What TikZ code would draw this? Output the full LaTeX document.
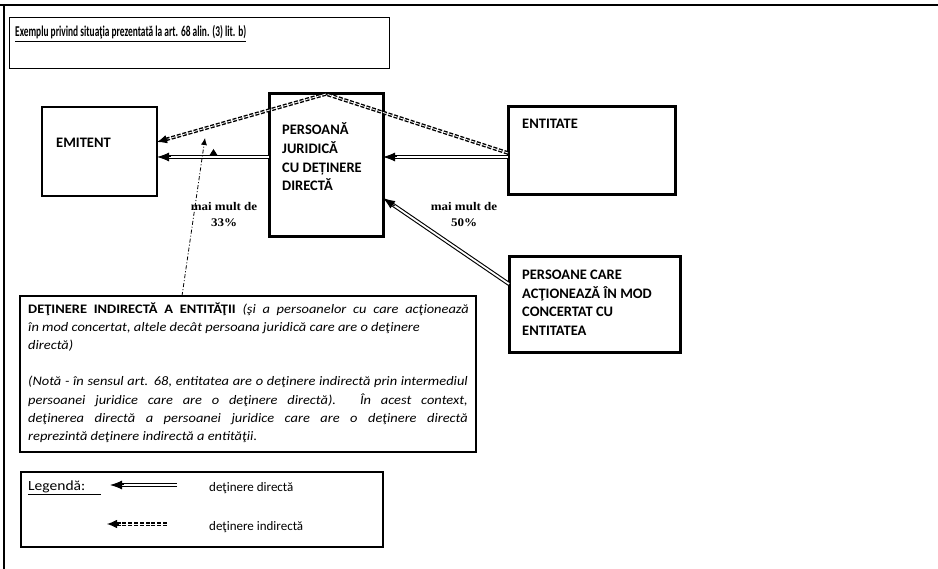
\documentclass[tikz,border=0pt]{standalone}
\usepackage{fontspec}
\setmainfont{Carlito}
\newfontfamily\serifb{Liberation Serif}
\usetikzlibrary{arrows.meta,calc}
\tikzset{
  box/.style={draw, line width=#1, inner sep=0pt, outer sep=0pt, anchor=north west},
  box/.default=1pt,
  lbl/.style={anchor=base west, inner sep=0pt, font=\fontsize{14.5}{17}\selectfont\bfseries},
  txt/.style={anchor=base west, inner sep=0pt, font=\fontsize{13}{15}\selectfont},
  pct/.style={anchor=base, inner sep=0pt, font=\serifb\fontsize{13}{14}\selectfont\bfseries},
  dline/.style={draw, double=white, double distance=1.8pt, line width=1.1pt, shorten >=8pt},
  dtip/.style={-{Latex[length=12pt,width=9pt]}, line width=1pt},
  iline/.style={draw, double=white, double distance=0.8pt, line width=1.4pt, dash pattern=on 4pt off 1.8pt, shorten >=7pt},
  itip/.style={-{Latex[length=10pt,width=8.5pt]}, line width=1pt},
  ddot/.style={line width=0.8pt, dash pattern=on 4pt off 2pt on 1pt off 2pt, -{Latex[length=7pt,width=6pt]}}
}
\newcommand\dirarr[2]{\draw[dline] #1 -- #2; \draw[dtip] ($#2!14pt!#1$) -- #2;}
\newcommand\wline[1]{\scalebox{1.11}[1]{#1}}
\begin{document}
\begin{tikzpicture}[x=1pt,y=-1pt]
\useasboundingbox (0,0) rectangle (938,569);
% outer frame
\coordinate (f0) at (0,5);
\coordinate (f1) at (938,5);
\coordinate (f2) at (4,569);
\draw[line width=1.3pt] (f0) -- (f1);
\draw[line width=1.3pt] (f2) |- (f0);

% boxes
\node[box=1pt, minimum width=380pt, minimum height=51pt] (title) at (9,18) {};
\node[box=2.6pt, minimum width=115pt, minimum height=89pt] (emit) at (42,107) {};
\node[box=3pt, minimum width=114pt, minimum height=143pt] (pj) at (269,94) {};
\node[box=3pt, minimum width=167pt, minimum height=88pt] (ent) at (508,107) {};
\node[box=3pt, minimum width=171pt, minimum height=96pt] (pers) at (509,257) {};
\node[box=1.4pt, minimum width=456pt, minimum height=156pt] (big) at (20,296) {};
\node[box=1.4pt, minimum width=362pt, minimum height=75pt] (leg) at (21,472) {};

% helper coordinates
\coordinate (y157) at (0,157);
\coordinate (y153) at (0,153);
\coordinate (y142) at (0,142);
\coordinate (y284) at (0,284);
\coordinate (y198) at (0,198);
\coordinate (x182) at (182,0);
\coordinate (ddend) at (205,138);

% direct holdings
\dirarr{(pj.west |- y157)}{(emit.east |- y157)}
\dirarr{(ent.west |- y157)}{(pj.east |- y157)}
\dirarr{(pers.west |- y284)}{(pj.east |- y198)}

% indirect holding
\draw[iline] (ent.west |- y153) -- (pj.north) -- (emit.east |- y142);
\draw[itip] ($(emit.east |- y142)!12pt!(pj.north)$) -- (emit.east |- y142);

% dash-dot pointer
\draw[ddot] (big.north -| x182) -- (ddend);
\fill (209,156) -- (213.5,149) -- (218,156) -- cycle;

% texts
\node[anchor=base west, inner sep=0pt, font=\fontsize{15}{17}\selectfont\bfseries] (ttl) at (15,37)
  {\resizebox{231pt}{\height}{\underline{Exemplu privind situaţia prezentată la art. 68 alin. (3) lit. b)}}};
\node[lbl] (temit) at (56,148) {EMITENT};
\node[lbl] (pj1) at (282,135) {PERSOANĂ};
\node[lbl] (pj2) at (282,154) {JURIDICĂ};
\node[lbl] (pj3) at (282,172.5) {CU DEȚINERE};
\node[lbl] (pj4) at (282,191) {DIRECTĂ};
\node[lbl] (tent) at (522,128.5) {ENTITATE};
\node[lbl] (ps1) at (522,279.5) {PERSOANE CARE};
\node[lbl] (ps2) at (522,298.3) {ACŢIONEAZĂ ÎN MOD};
\node[lbl] (ps3) at (522,317) {CONCERTAT CU};
\node[lbl] (ps4) at (522,335.7) {ENTITATEA};

\node[pct] (m1) at (224,211) {\scalebox{1}[0.9]{mai mult de}};
\node[pct] (m2) at (224,227) {\scalebox{1}[0.9]{33\%}};
\node[pct] (m3) at (464,211) {\scalebox{1}[0.9]{mai mult de}};
\node[pct] (m4) at (464,227) {\scalebox{1}[0.9]{50\%}};

\node[txt] (b1) at (28,314) {\wline{\makebox[397pt][s]{\textbf{DEŢINERE INDIRECTĂ A ENTITĂŢII} \textit{(şi a persoanelor cu care acţionează}}}};
\node[txt] (b2) at (28,332) {\wline{\textit{în mod concertat, altele decât persoana juridică care are o deţinere}}};
\node[txt] (b3) at (28,350) {\wline{\textit{directă)}}};
\node[txt] (b4) at (28,386) {\wline{\makebox[396pt][s]{\textit{(Notă - în sensul art. 68, entitatea are o deţinere indirectă prin intermediul}}}};
\node[txt] (b5) at (28,404.5) {\wline{\makebox[396pt][s]{\textit{persoanei juridice care are o deţinere directă). În acest context,}}}};
\node[txt] (b6) at (28,422.5) {\wline{\makebox[396pt][s]{\textit{deţinerea directă a persoanei juridice care are o deţinere directă}}}};
\node[txt] (b7) at (28,441) {\wline{\textit{reprezintă deţinere indirectă a entităţii.}}};

% legend
\node[txt, font=\fontsize{14}{16}\selectfont] (lg) at (28,490) {\wline{\underline{Legendă:\hspace*{14pt}}}};
\coordinate (la1) at (177,485);
\coordinate (la2) at (110,485);
\coordinate (lb1) at (167,524);
\coordinate (lb2) at (107,524);
\dirarr{(la1)}{(la2)}
\draw[iline] (lb1) -- (lb2);
\draw[itip] ($(lb2)!12pt!(lb1)$) -- (lb2);
\node[txt] (ld) at (209,491) {deţinere directă};
\node[txt] (li) at (209,530) {deţinere indirectă};
\end{tikzpicture}
\end{document}
